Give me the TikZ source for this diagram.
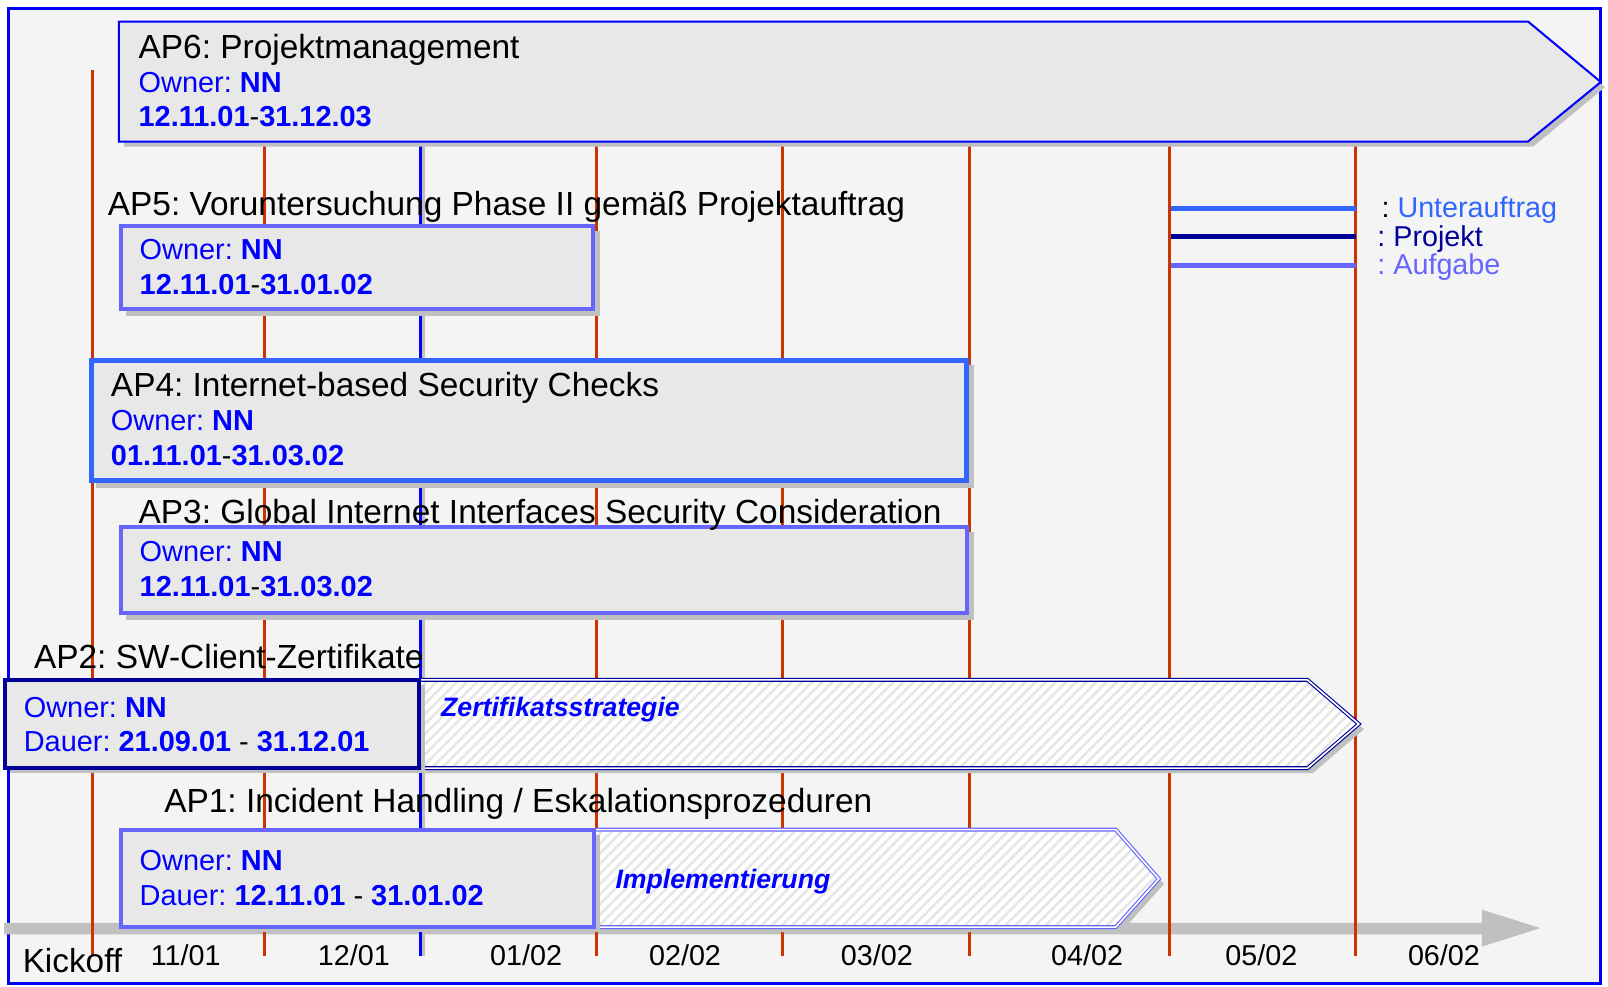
\documentclass[tikz,border=0pt]{standalone}
\usepackage{fontspec}
\setmainfont{Liberation Sans}
\usetikzlibrary{patterns.meta}
\frenchspacing
\definecolor{frameblue}{HTML}{0000FF}
\definecolor{subblue}{HTML}{3366FF}
\definecolor{navy}{HTML}{000099}
\definecolor{taskblue}{HTML}{6666FF}
\definecolor{redline}{HTML}{CC3300}
\definecolor{boxgray}{HTML}{E8E8E8}
\definecolor{bggray}{HTML}{F4F4F4}
\definecolor{shadowgray}{HTML}{C0C0C0}
\definecolor{hatchgray}{HTML}{E6E6E6}
\begin{document}
\begin{tikzpicture}[x=1pt,y=-1pt,
  title/.style={anchor=base west, inner sep=0, font=\fontsize{32.6}{32.6}\selectfont, text=black},
  info/.style={anchor=base west, inner sep=0, font=\fontsize{28.2}{28.2}\selectfont, text=frameblue},
  monthlbl/.style={anchor=base, inner sep=0, font=\fontsize{28}{28}\selectfont, text=black},
  phase/.style={anchor=base west, inner sep=0, font=\fontsize{26}{26}\selectfont\bfseries\itshape, text=frameblue},
  legendtxt/.style={anchor=base west, inner sep=0, font=\fontsize{28}{28}\selectfont},
  redl/.style={draw=redline, line width=3pt},
  shadowbox/.style={fill=shadowgray},
  hatched/.style={preaction={fill=white}, pattern={Lines[angle=45,distance=7pt,line width=2.5pt]}, pattern color=hatchgray},
  dbl/.style={line width=1.1pt, double=white, double distance=1.6pt}
]
\useasboundingbox (0,0) rectangle (1568,962);
\fill[white] (0,0) rectangle (1568,962);
\draw[frameblue, line width=3pt, fill=bggray] (8,8) rectangle (1561,959);

% time axis
\fill[shadowgray] (4,900) -- (1445,900) -- (1445,887) -- (1502,905) -- (1445,923) -- (1445,911) -- (4,911) -- cycle;

% month lines
\draw[redl] (90,68) -- (90,932);
\foreach \x in {258,582,763,945,1140,1322} \draw[redl] (\x,140) -- (\x,932);
\draw[shadowgray, line width=3pt] (413,140) -- (413,932);
\draw[frameblue, line width=3pt] (410,140) -- (410,932);

% AP6
\fill[shadowbox] (121,26) -- (1495,26) -- (1565,85) -- (1495,143) -- (121,143) -- cycle;
\draw[frameblue, line width=2pt, fill=boxgray] (116,21) -- (1490,21) -- (1561,80) -- (1490,138) -- (116,138) -- cycle;
\node[title] (ap6t) at (135,57) {AP6: Projektmanagement};
\node[info] (ap6o) at (135,90) {Owner: \textbf{NN}};
\node[info] (ap6d) at (135,123) {\textbf{12.11.01}\textcolor{black}{-}\textbf{31.12.03}};

% AP5
\node[title] (ap5t) at (105,210) {AP5: Voruntersuchung Phase II gemäß Projektauftrag};
\fill[shadowbox] (123,225) rectangle (585,308);
\draw[taskblue, line width=4pt, fill=boxgray] (118,220) rectangle (578,301);
\node[info] (ap5o) at (136,253) {Owner: \textbf{NN}};
\node[info] (ap5d) at (136,287) {\textbf{12.11.01}\textcolor{black}{-}\textbf{31.01.02}};

% AP4
\fill[shadowbox] (94,356) rectangle (950,476);
\draw[subblue, line width=5pt, fill=boxgray] (89.5,351.5) rectangle (942.5,468.5);
\node[title] (ap4t) at (108,387) {AP4: Internet-based Security Checks};
\node[info] (ap4o) at (108,420) {Owner: \textbf{NN}};
\node[info] (ap4d) at (108,454) {\textbf{01.11.01}\textcolor{black}{-}\textbf{31.03.02}};

% AP3
\fill[shadowbox] (123,519) rectangle (950,605);
\draw[taskblue, line width=4pt, fill=boxgray] (118,514) rectangle (943,598);
\node[title] (ap3t) at (135,510) {AP3: Global Internet Interfaces Security Consideration};
\node[info] (ap3o) at (136,548) {Owner: \textbf{NN}};
\node[info] (ap3d) at (136,582) {\textbf{12.11.01}\textcolor{black}{-}\textbf{31.03.02}};

% AP2
\node[title] (ap2t) at (33,652) {AP2: SW-Client-Zertifikate};
\fill[shadowbox] (415,668) -- (1280,668) -- (1330,711) -- (1280,754) -- (415,754) -- cycle;
\path[hatched] (410,663) -- (1275,663) -- (1325,706) -- (1275,749) -- (410,749) -- cycle;
\draw[navy, dbl] (410,663) -- (1275,663) -- (1325,706) -- (1275,749) -- (410,749);
\node[phase] (ap2p) at (430,699) {Zertifikatsstrategie};
\fill[shadowbox] (10,668) rectangle (414,754);
\draw[navy, line width=4pt, fill=boxgray] (5,663) rectangle (409,749);
\node[info] (ap2o) at (23,700) {Owner: \textbf{NN}};
\node[info] (ap2d) at (23,733) {Dauer: \textbf{21.09.01} \textcolor{black}{-} \textbf{31.12.01}};

% AP1
\node[title] (ap1t) at (160,792) {AP1: Incident Handling / Eskalationsprozeduren};
\fill[shadowbox] (585,814) -- (1093,814) -- (1135,862) -- (1093,909) -- (585,909) -- cycle;
\path[hatched] (580,809) -- (1088,809) -- (1130,857) -- (1088,904) -- (580,904) -- cycle;
\draw[taskblue, dbl] (580,809) -- (1088,809) -- (1130,857) -- (1088,904) -- (580,904);
\node[phase] (ap1p) at (600,866) {Implementierung};
\fill[shadowbox] (123,814) rectangle (585,909);
\draw[taskblue, line width=4pt, fill=boxgray] (118,809) rectangle (579,904);
\node[info] (ap1o) at (136,849) {Owner: \textbf{NN}};
\node[info] (ap1d) at (136,883) {Dauer: \textbf{12.11.01} \textcolor{black}{-} \textbf{31.01.02}};

% legend
\draw[subblue, line width=5pt] (1142,203) -- (1322,203);
\draw[navy, line width=5pt] (1142,231) -- (1322,231);
\draw[taskblue, line width=5pt] (1142,259) -- (1322,259);
\node[legendtxt] (lg1) at (1347,212) {\textcolor{black}{:} \textcolor{subblue}{Unterauftrag}};
\node[legendtxt, text=navy] (lg2) at (1343,240) {: Projekt};
\node[legendtxt, text=taskblue] (lg3) at (1343,268) {: Aufgabe};

% axis labels
\node[anchor=base west, inner sep=0, font=\fontsize{32.5}{32.5}\selectfont] (kick) at (22,948) {Kickoff};
\node[monthlbl] (m1) at (181,941) {11/01};
\node[monthlbl] (m2) at (345,941) {12/01};
\node[monthlbl] (m3) at (513,941) {01/02};
\node[monthlbl] (m4) at (668,941) {02/02};
\node[monthlbl] (m5) at (855,941) {03/02};
\node[monthlbl] (m6) at (1060,941) {04/02};
\node[monthlbl] (m7) at (1230,941) {05/02};
\node[monthlbl] (m8) at (1408,941) {06/02};
\end{tikzpicture}
\end{document}
